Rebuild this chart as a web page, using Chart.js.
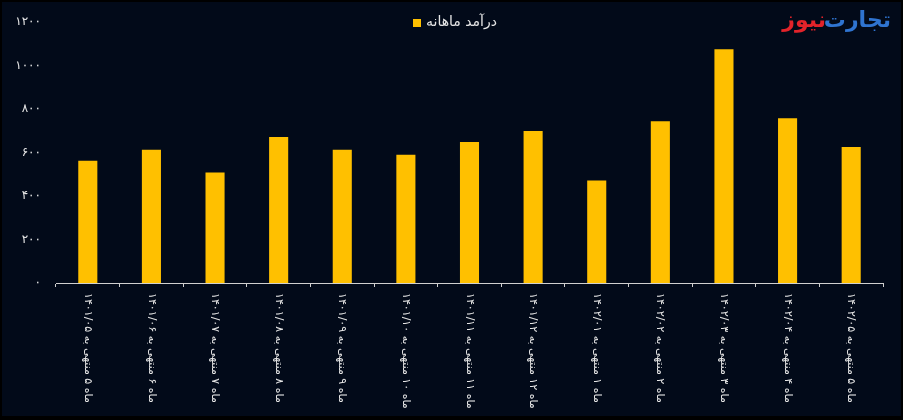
<!DOCTYPE html>
<html lang="fa">
<head>
<meta charset="utf-8">
<title>درآمد ماهانه</title>
<script src="https://cdn.jsdelivr.net/npm/chart.js@4.4.0/dist/chart.umd.min.js"></script>
<style>
  html, body { margin: 0; padding: 0; background: #000; }
  #chart-container { width: 903px; height: 420px; }
</style>
</head>
<body>
<div id="chart-container"><canvas id="revenue" width="903" height="420"></canvas></div>
<script>
// --- DATA ---
const months = [
    'ماه ۵ منتهی به ۱۴۰۱/۰۵',
    'ماه ۶ منتهی به ۱۴۰۱/۰۶',
    'ماه ۷ منتهی به ۱۴۰۱/۰۷',
    'ماه ۸ منتهی به ۱۴۰۱/۰۸',
    'ماه ۹ منتهی به ۱۴۰۱/۰۹',
    'ماه ۱۰ منتهی به ۱۴۰۱/۱۰',
    'ماه ۱۱ منتهی به ۱۴۰۱/۱۱',
    'ماه ۱۲ منتهی به ۱۴۰۱/۱۲',
    'ماه ۱ منتهی به ۱۴۰۲/۰۱',
    'ماه ۲ منتهی به ۱۴۰۲/۰۲',
    'ماه ۳ منتهی به ۱۴۰۲/۰۳',
    'ماه ۴ منتهی به ۱۴۰۲/۰۴',
    'ماه ۵ منتهی به ۱۴۰۲/۰۵'
];
const monthlyRevenue = [563, 613, 509, 672, 613, 590, 649, 699, 472, 744, 1075, 758, 626];
const seriesName = 'درآمد ماهانه';
const yTicks = [0, 200, 400, 600, 800, 1000, 1200];

const BG = '#020a19';
const BAR = '#ffc000';
const TEXT = '#e6e6e6';
const AXIS = '#d0d0d0';
const FONT = '"DejaVu Sans", "Noto Sans", sans-serif';

// latin -> persian digits
function faDigits(v) {
    return String(v).replace(/[0-9]/g, d => '۰۱۲۳۴۵۶۷۸۹'[d]);
}

// --- background + frame ---
const backdrop = {
    id: 'backdrop',
    beforeDraw(chart) {
        const c = chart.ctx;
        c.save();
        c.fillStyle = '#000';
        c.fillRect(0, 0, chart.width, chart.height);
        c.fillStyle = BG;
        c.fillRect(2, 2, chart.width - 4, chart.height - 6);
        c.restore();
    }
};

// --- rotated category labels, legend and logo ---
const decorations = {
    id: 'decorations',
    afterDraw(chart) {
        const c = chart.ctx;
        const xs = chart.scales.x;

        // x labels, turned clockwise
        c.save();
        c.fillStyle = TEXT;
        c.font = '11px ' + FONT;
        c.direction = 'rtl';
        c.textAlign = 'left';
        c.textBaseline = 'middle';
        months.forEach((m, i) => {
            const px = xs.getPixelForValue(i);
            c.save();
            c.translate(px, xs.top + 10);
            c.rotate(Math.PI / 2);
            c.fillText(m, 0, 0);
            c.restore();
        });
        c.restore();

        // legend
        c.save();
        c.fillStyle = BAR;
        c.fillRect(413, 19, 8, 8);
        c.fillStyle = TEXT;
        c.font = '14px ' + FONT;
        c.direction = 'rtl';
        c.textAlign = 'left';
        c.textBaseline = 'middle';
        c.fillText(chart.data.datasets[0].label, 426, 22);
        c.restore();

        // logo
        c.save();
        c.font = 'bold 22px ' + FONT;
        c.direction = 'rtl';
        c.textBaseline = 'middle';
        c.textAlign = 'right';
        c.fillStyle = '#2f74d0';
        c.fillText('تجارت', 891, 21);
        c.fillStyle = '#e2232a';
        c.fillText('نیوز', 826, 21);
        c.restore();
    }
};

new Chart(document.getElementById('revenue'), {
    type: 'bar',
    data: {
        labels: months,
        datasets: [{
            label: seriesName,
            data: monthlyRevenue,
            backgroundColor: BAR,
            borderWidth: 0,
            categoryPercentage: 1,
            barPercentage: 0.3
        }]
    },
    options: {
        responsive: false,
        animation: false,
        layout: { padding: { top: 18, right: 20, bottom: 0, left: 0 } },
        plugins: {
            legend: { display: false },
            tooltip: { enabled: false }
        },
        scales: {
            x: {
                grid: {
                    display: true,
                    drawOnChartArea: false,
                    drawTicks: true,
                    tickLength: 4,
                    color: AXIS
                },
                border: { display: true, color: AXIS, width: 1 },
                ticks: { display: false },
                afterFit(scale) { scale.height = 137; }
            },
            y: {
                min: 0,
                max: 1200,
                afterBuildTicks(scale) { scale.ticks = yTicks.map(v => ({ value: v })); },
                grid: { display: false, drawTicks: false },
                border: { display: false },
                ticks: {
                    color: TEXT,
                    padding: 15,
                    font: { family: FONT, size: 12 },
                    callback: v => faDigits(v)
                },
                afterFit(scale) { scale.width = 56; }
            }
        }
    },
    plugins: [backdrop, decorations]
});
</script>
</body>
</html>
